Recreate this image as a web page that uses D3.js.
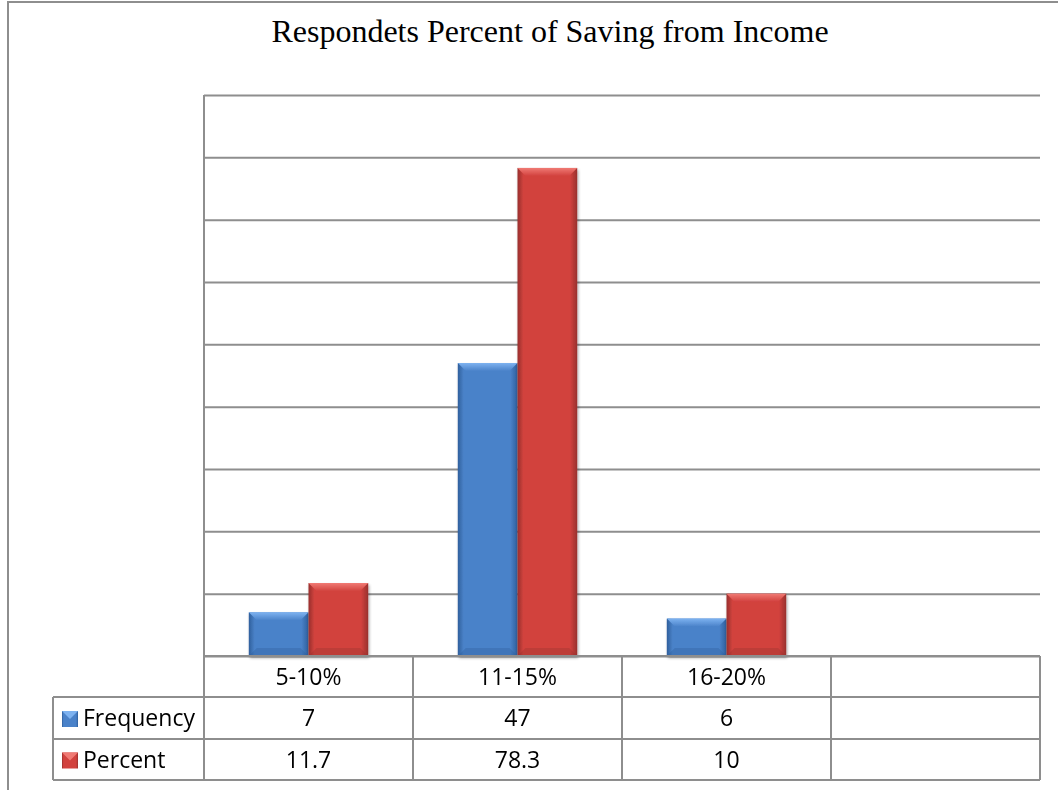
<!DOCTYPE html>
<html>
<head>
<meta charset="utf-8">
<script src="https://cdn.jsdelivr.net/npm/d3@7/dist/d3.min.js"></script>
<style>
  html, body { margin: 0; padding: 0; background: #fff; }
  svg { display: block; }
</style>
</head>
<body>
<svg id="chart" width="1058" height="790"></svg>
<script>
// Survey data: share of income that respondents save
const categories = ["5-10%", "11-15%", "16-20%", ""];
const seriesNames = ["Frequency", "Percent"];
const frequency = [7, 47, 6];
const percent = [11.7, 78.3, 10];
const yTicks = [0, 10, 20, 30, 40, 50, 60, 70, 80, 90];
const titleText = "Respondets Percent of Saving from Income";

const series = [
  { name: seriesNames[0], values: frequency, base: "#4a82c9", light: "#7db2f0", dark: "#2f5f9c" },
  { name: seriesNames[1], values: percent, base: "#d2423e", light: "#f07a74", dark: "#98302d" }
];

const W = 1058, H = 790;
const plot = { left: 204, right: 1040, top: 95, bottom: 656 };
const rowH = [41, 42, 41];
const labelLeft = 53;
const lineColor = "#8e8e8e";

const svg = d3.select("#chart");
const defs = svg.append("defs");

// gradients for bar bodies and bevels
series.forEach((s, i) => {
  const g = defs.append("linearGradient").attr("id", "body" + i)
    .attr("x1", "0%").attr("x2", "100%").attr("y1", "0%").attr("y2", "0%");
  g.append("stop").attr("offset", "0%").attr("stop-color", s.dark);
  g.append("stop").attr("offset", "10%").attr("stop-color", s.base);
  g.append("stop").attr("offset", "88%").attr("stop-color", s.base);
  g.append("stop").attr("offset", "100%").attr("stop-color", s.dark);
  const t = defs.append("linearGradient").attr("id", "top" + i)
    .attr("x1", "0%").attr("x2", "0%").attr("y1", "0%").attr("y2", "100%");
  t.append("stop").attr("offset", "0%").attr("stop-color", s.light);
  t.append("stop").attr("offset", "100%").attr("stop-color", s.base);
});
const shadow = defs.append("filter").attr("id", "shadow")
  .attr("x", "-10%").attr("y", "-10%").attr("width", "130%").attr("height", "130%");
shadow.append("feGaussianBlur").attr("in", "SourceAlpha").attr("stdDeviation", 1.5);
shadow.append("feOffset").attr("dx", 1).attr("dy", 2).attr("result", "off");
shadow.append("feComponentTransfer").append("feFuncA").attr("type", "linear").attr("slope", 0.35);
const merge = shadow.append("feMerge");
merge.append("feMergeNode");
merge.append("feMergeNode").attr("in", "SourceGraphic");

// outer chart border
svg.append("path")
  .attr("d", `M8,${H} L8,2 L${W},2`)
  .attr("fill", "none").attr("stroke", lineColor).attr("stroke-width", 2);

// title
svg.append("text")
  .attr("x", 550).attr("y", 42)
  .attr("text-anchor", "middle")
  .attr("font-family", "'Liberation Serif', 'Times New Roman', serif")
  .attr("font-size", 32)
  .attr("fill", "#000")
  .text(titleText);

// scales
const x = d3.scaleBand().domain(categories).range([plot.left, plot.right]).paddingInner(0).paddingOuter(0);
const y = d3.scaleLinear().domain([0, 90]).range([plot.bottom, plot.top]);
const barW = x.bandwidth() / 3.5;
const xs = d3.scaleBand().domain(seriesNames).range([0, barW * 2]);

// horizontal gridlines via an axis
const gridAxis = d3.axisLeft(y).tickValues(yTicks).tickSize(-(plot.right - plot.left)).tickFormat("");
const grid = svg.append("g").attr("transform", `translate(${plot.left},0)`).call(gridAxis);
grid.select(".domain").remove();
grid.selectAll(".tick line").attr("stroke", lineColor).attr("stroke-width", 2);

// left axis line (plot + table)
const tableBottom = plot.bottom + d3.sum(rowH);
svg.append("line")
  .attr("x1", plot.left).attr("x2", plot.left)
  .attr("y1", plot.top).attr("y2", tableBottom)
  .attr("stroke", lineColor).attr("stroke-width", 2);

// bars with bevelled top
const bevel = 8;
series.forEach((s, si) => {
  const g = svg.append("g").attr("filter", "url(#shadow)");
  s.values.forEach((v, ci) => {
    const x0 = x(categories[ci]) + (x.bandwidth() - barW * 2) / 2 + xs(s.name);
    const x1 = x0 + barW;
    const yt = y(v), yb = y(0);
    const b = Math.min(bevel, (yb - yt) / 2);
    g.append("rect")
      .attr("x", x0).attr("y", yt).attr("width", barW).attr("height", yb - yt)
      .attr("fill", `url(#body${si})`);
    g.append("path")
      .attr("d", `M${x0},${yt} L${x1},${yt} L${x1 - b},${yt + b} L${x0 + b},${yt + b} Z`)
      .attr("fill", `url(#top${si})`);
    g.append("path")
      .attr("d", `M${x0},${yb} L${x1},${yb} L${x1 - b},${yb - b} L${x0 + b},${yb - b} Z`)
      .attr("fill", s.dark).attr("opacity", 0.35);
  });
});

// data table
const tableFont = "'Open Sans', 'DejaVu Sans', sans-serif";
const fontSize = 23;
const rowTops = [plot.bottom, plot.bottom + rowH[0], plot.bottom + rowH[0] + rowH[1]];
const tbl = svg.append("g");

// horizontal rules
tbl.append("line").attr("x1", plot.left).attr("x2", plot.right)
  .attr("y1", plot.bottom).attr("y2", plot.bottom)
  .attr("stroke", lineColor).attr("stroke-width", 2);
[rowTops[1], rowTops[2], tableBottom].forEach(yy => {
  tbl.append("line").attr("x1", labelLeft).attr("x2", plot.right)
    .attr("y1", yy).attr("y2", yy)
    .attr("stroke", lineColor).attr("stroke-width", 2);
});
// vertical rules
tbl.append("line").attr("x1", labelLeft).attr("x2", labelLeft)
  .attr("y1", rowTops[1]).attr("y2", tableBottom)
  .attr("stroke", lineColor).attr("stroke-width", 2);
categories.forEach(c => {
  const xr = x(c) + x.bandwidth();
  tbl.append("line").attr("x1", xr).attr("x2", xr)
    .attr("y1", plot.bottom).attr("y2", tableBottom)
    .attr("stroke", lineColor).attr("stroke-width", 2);
});

// header labels
categories.forEach(c => {
  tbl.append("text")
    .attr("x", x(c) + x.bandwidth() / 2)
    .attr("y", rowTops[0] + rowH[0] / 2)
    .attr("dy", "0.36em")
    .attr("text-anchor", "middle")
    .attr("font-family", tableFont).attr("font-size", fontSize)
    .attr("fill", "#000")
    .text(c);
});

// series rows
series.forEach((s, si) => {
  const top = rowTops[si + 1];
  const mid = top + rowH[si + 1] / 2;
  const kx = 62, ks = 16, ky = mid - ks / 2 + 1;
  tbl.append("rect").attr("x", kx).attr("y", ky).attr("width", ks).attr("height", ks)
    .attr("fill", `url(#body${si})`);
  tbl.append("path")
    .attr("d", `M${kx},${ky} L${kx + ks},${ky} L${kx + ks / 2},${ky + ks / 2} Z`)
    .attr("fill", s.light);
  tbl.append("text")
    .attr("x", 83).attr("y", mid).attr("dy", "0.36em")
    .attr("font-family", tableFont).attr("font-size", fontSize)
    .attr("fill", "#000")
    .text(s.name);
  s.values.forEach((v, ci) => {
    tbl.append("text")
      .attr("x", x(categories[ci]) + x.bandwidth() / 2)
      .attr("y", mid).attr("dy", "0.36em")
      .attr("text-anchor", "middle")
      .attr("font-family", tableFont).attr("font-size", fontSize)
      .attr("fill", "#000")
      .text(v);
  });
});
</script>
</body>
</html>
